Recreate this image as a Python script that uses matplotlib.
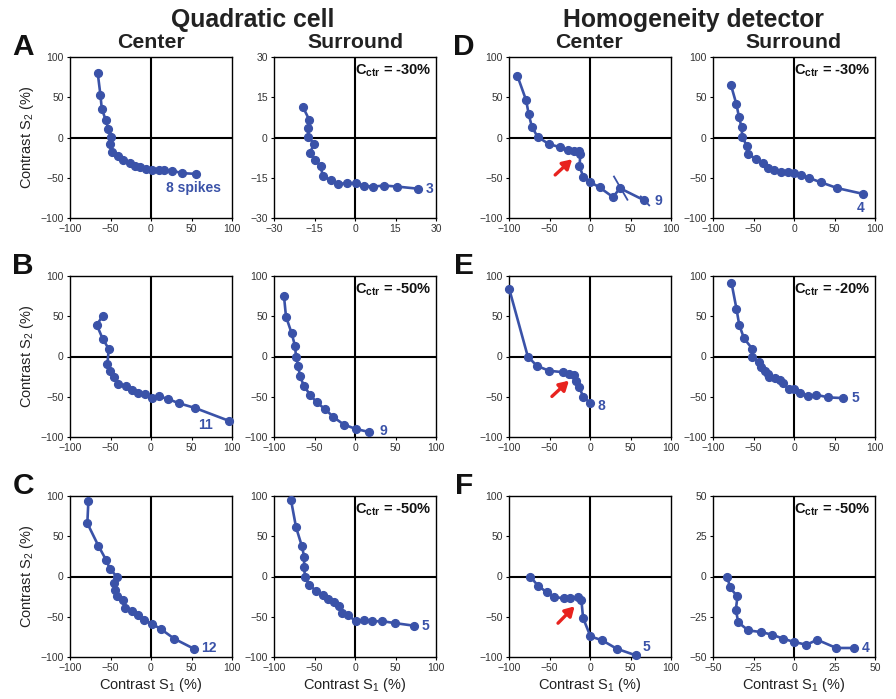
import matplotlib
matplotlib.use("Agg")
import matplotlib.pyplot as plt

plt.rcParams['font.family'] = ['Liberation Sans', 'DejaVu Sans']
plt.rcParams['mathtext.fontset'] = 'custom'
plt.rcParams['mathtext.rm'] = 'Liberation Sans'
plt.rcParams['mathtext.bf'] = 'Liberation Sans:bold'
plt.rcParams['mathtext.it'] = 'Liberation Sans:italic'

BLUE = '#3a52a8'

# ---------------- data ----------------
# Panel A
a_ctr_x = [-65.8, -62.5, -60.8, -55.9, -52.6, -49.3, -50.5, -48.5, -41, -34, -25.8, -19.6, -13.4, -6.4, 1, 9.3, 16.3, 25.8, 38, 55.9]
a_ctr_y = [80.2, 53.4, 36, 21.6, 10.5, 1, -8.5, -17.5, -23, -27.8, -32, -35, -37, -39.4, -40.2, -40.2, -40.6, -41, -44.3, -45.2]
a_sur_x = [-19.3, -16.9, -17.5, -17.3, -15.1, -16.7, -14.8, -12.7, -12, -9, -6.2, -2.8, 0.4, 3.3, 6.8, 10.7, 15.7, 23.5]
a_sur_y = [11.4, 6.5, 3.4, 0.3, -2.4, -5.6, -8.4, -10.6, -14.2, -16, -17.3, -17, -17, -18, -18.3, -17.9, -18.3, -19.1]
# Panel B
b_ctr_x = [-59.6, -67, -59.6, -52.2, -53.8, -50.5, -45.2, -40.2, -30.7, -22.9, -15.5, -7.2, 1, 10.1, 20.4, 34, 54.6, 95.9]
b_ctr_y = [50.4, 39.3, 21.9, 9.5, -9.5, -18.6, -25.6, -33.9, -37.2, -42.1, -45.5, -46.3, -51.7, -49.6, -52.5, -57.9, -64, -79.8]
b_sur_x = [-87.7, -85.2, -78.2, -74.1, -72.8, -70, -67.9, -63, -55.6, -47.3, -37, -26.7, -13.6, 1.2, 17.3]
b_sur_y = [75.2, 49.6, 28.9, 13.2, 0, -12.4, -24.8, -36.4, -47.5, -57, -65.3, -75.2, -84.7, -90, -93.8]
# Panel C
c_ctr_x = [-77.3, -78.6, -64.9, -55.5, -50.5, -42.3, -45.2, -44.3, -42.3, -34.8, -32, -23.7, -16.3, -8.5, 1, 12.2, 28.7, 53.4]
c_ctr_y = [93.8, 66.1, 38, 20.7, 9.1, 0, -8.3, -16.5, -24.8, -29.8, -39.3, -43.4, -47.5, -53.7, -58.7, -65.3, -77.3, -90]
c_sur_x = [-79, -72.8, -65.8, -62.6, -63, -61.7, -56.8, -48.1, -39.1, -32.9, -25.9, -19.8, -16.5, -8.2, 1.2, 11.1, 21.4, 32.9, 49.4, 73.3]
c_sur_y = [95, 61.2, 38.4, 24, 11.6, 0, -10.3, -17.8, -22.7, -28.1, -32.2, -36.4, -45.5, -48.3, -55.8, -53.7, -55.8, -55.4, -57.9, -61.2]
# Panel D
d_ctr_x = [-89.6, -78.9, -75.6, -71.8, -64.8, -51.1, -36.6, -27.1, -19.3, -13.9, -11.8, -13, -8.5, 0.6, 11.8, 28.4, 37, 66.9]
d_ctr_y = [76.5, 46.4, 28.7, 13.4, 1, -8, -12.2, -15.5, -16.7, -16.3, -20.4, -35.3, -48.5, -55.5, -62, -74, -63, -78]
d_sur_x = [-78, -71, -68, -64.7, -63.9, -58.5, -57.3, -46.9, -38.6, -31.5, -24.1, -16.2, -7.9, -0.4, 8.7, 19.1, 32.8, 53.5, 84.6]
d_sur_y = [65.8, 41, 25.8, 12.6, 1, -10, -20.4, -26.6, -32, -37.3, -40.2, -43, -42.7, -44.3, -46.4, -50.5, -55.5, -62.9, -69.9]
# Panel E
e_ctr_x = [-99.6, -76.8, -65.6, -50.3, -33.7, -25.5, -19.3, -16.8, -13, -8.5, 0.6]
e_ctr_y = [83.5, 0, -11.6, -17.8, -19.4, -21.9, -23.1, -30.2, -38, -50.4, -57.9]
e_sur_x = [-77.2, -71, -67.6, -61.8, -51.5, -52.3, -43.2, -40.7, -35.7, -32.4, -30.7, -23.2, -17, -13.7, -6.6, -0.4, 7.9, 17.4, 27.4, 42.3, 61]
e_sur_y = [91.7, 59.1, 39.3, 22.7, 9.5, 0, -7, -13.2, -18.6, -21.5, -25.6, -26.9, -28.9, -33, -40.5, -40.5, -45.5, -48.8, -47.5, -50.8, -51.7]
# Panel F
f_ctr_x = [-73.9, -64.4, -53.2, -44.9, -32.5, -24.2, -15.1, -10.6, -8.5, 0.6, 15.1, 32.9, 56.5]
f_ctr_y = [0, -11.2, -19.8, -25.6, -26.9, -26.9, -25.6, -29.8, -51.7, -74.4, -79.3, -89.7, -97.9]
f_sur_x = [-41.1, -39.6, -34.9, -35.9, -34.4, -28.2, -20.3, -13.3, -6.8, 0.2, 7.7, 14.3, 26.1, 37.1]
f_sur_y = [0, -6.8, -12.4, -20.7, -28.5, -33.5, -34.5, -36.2, -38.6, -40.7, -42.4, -39.3, -44.4, -44.4]

# spike-count labels: (text, x, y)
spike_labels = {
    'a_ctr': ('8 spikes', 52.6, -63), 'a_sur': ('3', 27.5, -19.1),
    'b_ctr': ('11', 67.8, -85.5), 'b_sur': ('9', 35, -93),
    'c_ctr': ('12', 71, -89), 'c_sur': ('5', 86.4, -62),
    'd_ctr': ('9', 84, -79), 'd_sur': ('4', 81.7, -88),
    'e_ctr': ('8', 14, -61), 'e_sur': ('5', 76.3, -52),
    'f_ctr': ('5', 70, -87), 'f_sur': ('4', 44.4, -44.4),
}
cctr_labels = {'a_sur': '-30%', 'b_sur': '-50%', 'c_sur': '-50%',
               'd_sur': '-30%', 'e_sur': '-20%', 'f_sur': '-50%'}
# red arrows (tail x, tail y, head x, head y)
arrows = {'d_ctr': (-43, -46.5, -22, -27), 'e_ctr': (-47, -49.6, -26, -30),
          'f_ctr': (-39.5, -58, -19, -37)}
# error-bar segments in D centre: (x0, y0, x1, y1)
d_err = [(29.6, -48.5, 46.2, -77.3), (62.7, -73.2, 73.1, -84.3)]

limits = {'a_ctr': 100, 'a_sur': 30, 'b_ctr': 100, 'b_sur': 100, 'c_ctr': 100, 'c_sur': 100,
          'd_ctr': 100, 'd_sur': 100, 'e_ctr': 100, 'e_sur': 100, 'f_ctr': 100, 'f_sur': 50}
tick_sets = {100: ([-100, -50, 0, 50, 100], ['−100', '−50', '0', '50', '100']),
             30: ([-30, -15, 0, 15, 30], ['−30', '−15', '0', '15', '30']),
             50: ([-50, -25, 0, 25, 50], ['−50', '−25', '0', '25', '50'])}
data = {'a_ctr': (a_ctr_x, a_ctr_y), 'a_sur': (a_sur_x, a_sur_y),
        'b_ctr': (b_ctr_x, b_ctr_y), 'b_sur': (b_sur_x, b_sur_y),
        'c_ctr': (c_ctr_x, c_ctr_y), 'c_sur': (c_sur_x, c_sur_y),
        'd_ctr': (d_ctr_x, d_ctr_y), 'd_sur': (d_sur_x, d_sur_y),
        'e_ctr': (e_ctr_x, e_ctr_y), 'e_sur': (e_sur_x, e_sur_y),
        'f_ctr': (f_ctr_x, f_ctr_y), 'f_sur': (f_sur_x, f_sur_y)}

# ---------------- layout ----------------
W, H = 896, 699
fig = plt.figure(figsize=(W / 100, H / 100), dpi=100)
col_left = [70, 274, 509, 713]
row_top = [57, 276, 496]
aw, ah = 162, 161
rows = ['a', 'b', 'c']
rows2 = ['d', 'e', 'f']

def make_ax(col, row):
    l = col_left[col] / W
    b = (H - row_top[row] - ah) / H
    return fig.add_axes([l, b, aw / W, ah / H])

for r in range(3):
    for c in range(4):
        key = (rows[r] if c < 2 else rows2[r]) + ('_ctr' if c % 2 == 0 else '_sur')
        ax = make_ax(c, r)
        lim = limits[key]
        ax.set_xlim(-lim, lim)
        ax.set_ylim(-lim, lim)
        tks, lbl = tick_sets[lim]
        ax.set_xticks(tks); ax.set_yticks(tks)
        ax.set_xticklabels(lbl); ax.set_yticklabels(lbl)
        ax.tick_params(direction='out', length=2.5, width=0.8, labelsize=7.5,
                       colors='black', labelcolor='#333333', pad=2)
        for s in ax.spines.values():
            s.set_linewidth(1.0)
            s.set_color('black')
        ax.axhline(0, color='black', lw=1.5, zorder=1)
        ax.axvline(0, color='black', lw=1.5, zorder=1)
        xs, ys = data[key]
        ax.plot(xs, ys, '-o', color=BLUE, lw=1.9, ms=5.6, zorder=3, clip_on=False)
        if key == 'd_ctr':
            for (x0, y0, x1, y1) in d_err:
                ax.plot([x0, x1], [y0, y1], color=BLUE, lw=1.3, zorder=3)
        t, tx, ty = spike_labels[key]
        ax.text(tx, ty, t, color=BLUE, fontsize=10, fontweight='bold', ha='center', va='center')
        if key in cctr_labels:
            ax.text(0.975, 0.965, r'C$_{\mathbf{ctr}}$ = ' + cctr_labels[key], transform=ax.transAxes,
                    ha='right', va='top', fontsize=10.5, fontweight='bold', color='#111111')
        if key in arrows:
            x0, y0, x1, y1 = arrows[key]
            ax.annotate('', xy=(x1, y1), xytext=(x0, y0),
                        arrowprops=dict(arrowstyle='-|>,head_length=0.55,head_width=0.32',
                                        color='#e8231f', lw=2.4, shrinkA=0, shrinkB=0))
        if c == 0:
            ax.set_ylabel('Contrast S$_2$ (%)', fontsize=10.5, color='#222222', labelpad=3)
        if r == 2:
            ax.set_xlabel('Contrast S$_1$ (%)', fontsize=10.5, color='#222222', labelpad=2)

# headings
fig.text(253 / W, 1 - 20 / H, 'Quadratic cell', fontsize=17.8, fontweight='bold', ha='center', va='center', color='#222222')
fig.text(693 / W, 1 - 20 / H, 'Homogeneity detector', fontsize=17.8, fontweight='bold', ha='center', va='center', color='#222222')
for cx, name in [(151, 'Center'), (355, 'Surround'), (589, 'Center'), (793, 'Surround')]:
    fig.text(cx / W, 1 - 42 / H, name, fontsize=15.3, fontweight='bold', ha='center', va='center', color='#222222')
for lx, ly, letter in [(23, 47, 'A'), (23, 266, 'B'), (23, 486, 'C'),
                       (464, 47, 'D'), (464, 266, 'E'), (464, 486, 'F')]:
    fig.text(lx / W, 1 - ly / H, letter, fontsize=21.5, fontweight='bold', ha='center', va='center', color='#111111')

fig.savefig('out.png', dpi=100)
